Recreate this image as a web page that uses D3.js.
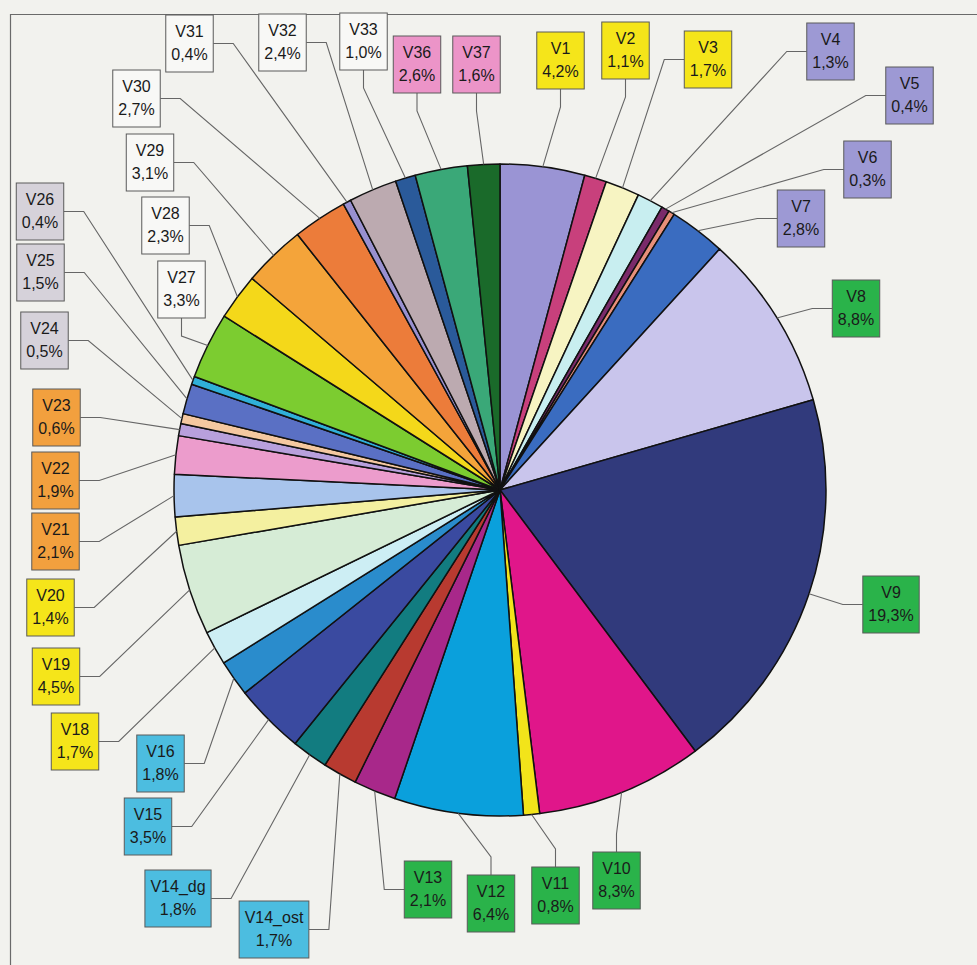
<!DOCTYPE html>
<html>
<head>
<meta charset="utf-8">
<script src="https://cdn.jsdelivr.net/npm/d3@7"></script>
<style>
  html, body { margin: 0; padding: 0; background: #f2f2ee; }
  svg { display: block; }
</style>
</head>
<body>
<svg id="chart" width="977" height="965"></svg>
<script>
// ---- data ----
const names = ["V1","V2","V3","V4","V5","V6","V7","V8","V9","V10","V11","V12","V13",
  "V14_ost","V14_dg","V15","V16","V18","V19","V20","V21","V22","V23","V24","V25","V26",
  "V27","V28","V29","V30","V31","V32","V33","V36","V37"];
const values = [4.2,1.1,1.7,1.3,0.4,0.3,2.8,8.8,19.3,8.3,0.8,6.4,2.1,
  1.7,1.8,3.5,1.8,1.7,4.5,1.4,2.1,1.9,0.6,0.5,1.5,0.4,
  3.3,2.3,3.1,2.7,0.4,2.4,1.0,2.6,1.6];
const sliceColors = ["#9a94d4","#c8407c","#f7f4c2","#c8eef0","#7a2a6a","#e8907a","#3a6cc0",
  "#c9c5ec","#313a7c","#e0168a","#f2e41a","#0aa0dc","#a8288a",
  "#b83a30","#127c80","#3a4aa0","#2a8ccc","#cdeef4","#d6ecd6","#f4f0a0","#a8c4ec","#ec9ccc",
  "#b8a0dc","#f4c8a0","#5a70c4","#30b0d8","#7ccc30","#f4d81a","#f4a43a","#ec7c3a",
  "#9890d0","#bcaab0","#2a5a9a","#3aa878","#1a6a2a"];
const boxColors = ["#f5e51a","#f5e51a","#f5e51a","#9d99d4","#9d99d4","#9d99d4","#9d99d4",
  "#2ab34a","#2ab34a","#2ab34a","#2ab34a","#2ab34a","#2ab34a",
  "#4cbde0","#4cbde0","#4cbde0","#4cbde0","#f5e51a","#f5e51a","#f5e51a","#f2a03e","#f2a03e",
  "#f2a03e","#d6d2da","#d6d2da","#d6d2da","#f8f8f6","#f8f8f6","#f8f8f6","#f8f8f6",
  "#f8f8f6","#f8f8f6","#f8f8f6","#ec94c8","#ec94c8"];

// ---- label layout (box centre x, box top y, side where the leader leaves) ----
const labelLayout = {
  V1:[560.5,32,"b"], V2:[625.5,22,"b"], V3:[708,31,"l"], V4:[830.5,23,"l"], V5:[909.5,67,"l"],
  V6:[867.5,141,"l"], V7:[801,190,"l"], V8:[856,280,"l"], V9:[891,576,"l"],
  V10:[616.5,852,"t"], V11:[555.5,867,"t"], V12:[491,875,"t"], V13:[428,861,"l"],
  V14_ost:[274,901,"r"], V14_dg:[178,870,"r"], V15:[148,798,"r"], V16:[160.5,735,"r"],
  V18:[75,713,"r"], V19:[56,648,"r"], V20:[50.5,579,"r"], V21:[55.5,513,"r"], V22:[55.5,452,"r"],
  V23:[56.5,389,"r"], V24:[44.5,312,"r"], V25:[40.5,244,"r"], V26:[40,183,"r"],
  V27:[181.5,261,"b"], V28:[165.5,197,"r"], V29:[150,134,"r"], V30:[136.5,70,"r"],
  V31:[189.5,15,"r"], V32:[282.5,14,"r"], V33:[363.5,13,"b"], V36:[417,36,"b"], V37:[476.5,36,"b"]
};

const fmt = v => v.toFixed(1).replace(".", ",") + "%";
const data = names.map((n, i) => ({name: n, v: values[i], color: sliceColors[i], box: boxColors[i]}));

const svg = d3.select("#chart");
svg.append("rect").attr("width", 977).attr("height", 965).attr("fill", "#f2f2ee");
svg.append("path").attr("d", "M10.5,965 L10.5,14.5 L977,14.5")
  .attr("fill", "none").attr("stroke", "#6a6a6a").attr("stroke-width", 1.2);

const cx = 500, cy = 490, R = 326;
const pie = d3.pie().sort(null).value(d => d.v).startAngle(0).endAngle(2 * Math.PI);
const arcs = pie(data);
const arc = d3.arc().innerRadius(0).outerRadius(R);
const edge = d3.arc().innerRadius(R).outerRadius(R);

const g = svg.append("g").attr("transform", `translate(${cx},${cy})`);
g.selectAll("path.slice").data(arcs).join("path")
  .attr("class", "slice")
  .attr("d", arc)
  .attr("fill", d => d.data.color)
  .attr("stroke", "#111")
  .attr("stroke-width", 1.5)
  .attr("stroke-linejoin", "round");

// ---- labels ----
const BOX_H = 57, FONT = 16;
const lg = svg.append("g").attr("font-family", "'Liberation Sans', Arial, sans-serif")
  .attr("font-size", FONT).attr("fill", "#1a1a1a");

const measure = svg.append("text").attr("font-family", "'Liberation Sans', Arial, sans-serif")
  .attr("font-size", FONT).attr("visibility", "hidden");
function textW(s) { measure.text(s); return measure.node().getComputedTextLength(); }

const leaders = svg.insert("g", () => lg.node()).attr("fill", "none")
  .attr("stroke", "#666").attr("stroke-width", 1.1);

arcs.forEach(a => {
  const d = a.data;
  const [bx, by, side] = labelLayout[d.name];
  const w = Math.max(45, Math.max(textW(d.name), textW(fmt(d.v))) + 11);
  const left = bx - w / 2, top = by;
  const [ex, ey] = edge.centroid(a);
  const px = cx + ex, py = cy + ey;
  let ax, ay, kx, ky;
  if (side === "b") { ax = bx; ay = top + BOX_H; kx = bx; ky = ay + 18; }
  else if (side === "t") { ax = bx; ay = top; kx = bx; ky = ay - 18; }
  else if (side === "l") { ax = left; ay = top + BOX_H / 2; kx = ax - 20; ky = ay; }
  else { ax = left + w; ay = top + BOX_H / 2; kx = ax + 20; ky = ay; }
  leaders.append("path").attr("d", d3.line()([[ax, ay], [kx, ky], [px, py]]));

  const b = lg.append("g");
  b.append("rect").attr("x", left).attr("y", top).attr("width", w).attr("height", BOX_H)
    .attr("fill", d.box).attr("stroke", "#5a5a5a").attr("stroke-width", 1);
  b.append("text").attr("x", bx).attr("y", top + 22).attr("text-anchor", "middle").text(d.name);
  b.append("text").attr("x", bx).attr("y", top + 45).attr("text-anchor", "middle").text(fmt(d.v));
});
measure.remove();
</script>
</body>
</html>
